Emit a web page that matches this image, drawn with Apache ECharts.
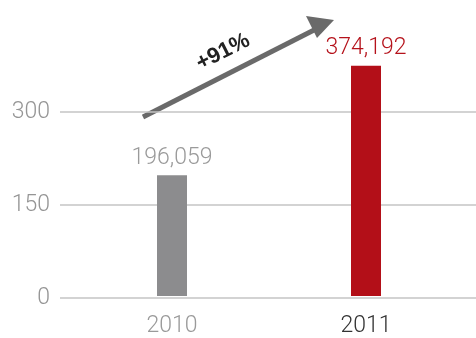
<!DOCTYPE html>
<html><head><meta charset="utf-8">
<script src="https://cdn.jsdelivr.net/npm/echarts@6/dist/echarts.min.js"></script>
<style>html,body{margin:0;padding:0;background:#fff}#c{width:476px;height:338px}</style>
</head><body><div id="c"></div>
<script>
const categories = ['2010', '2011'];
const values = [196059, 374192];
const barColors = ['#8c8c8e', '#b30f18'];
const labelColors = ['#9a9a9a', '#b5121b'];
const axisLabelColors = ['#9a9a9a', '#333333'];
const yTicks = [0, 150000, 300000];
const changeText = '+91%';

const font = 'Roboto';
const fw = 300;
const fs = 23;
const chart = echarts.init(document.getElementById('c'), null, {renderer: 'canvas'});
chart.setOption({
  animation: false,
  grid: [
    {left: 60, right: 0, top: 112, bottom: 40},
    {left: 75, right: 13, top: 19, bottom: 40}
  ],
  xAxis: [
    {gridIndex: 0, type: 'value', show: false, min: 0, max: 1},
    {gridIndex: 1, type: 'category', data: categories,
     axisLine: {show: false}, axisTick: {show: false},
     axisLabel: {margin: 19, fontSize: fs, fontFamily: font, fontWeight: fw,
       formatter: (v, i) => '{c' + i + '|' + v + '}',
       rich: {c0: {color: axisLabelColors[0], fontSize: fs, fontFamily: font, fontWeight: fw},
              c1: {color: axisLabelColors[1], fontSize: fs, fontFamily: font, fontWeight: fw}}}}
  ],
  yAxis: [
    {gridIndex: 0, type: 'value', min: yTicks[0], max: yTicks[yTicks.length - 1], interval: yTicks[1] - yTicks[0],
     axisLine: {show: false}, axisTick: {show: false},
     axisLabel: {margin: 10, fontSize: fs, color: '#959595', fontFamily: font, fontWeight: fw,
       formatter: v => String(v / 1000)},
     splitLine: {lineStyle: {color: '#c4c4c4', width: 1.5}}},
    {gridIndex: 1, type: 'value', min: 0, max: 450000, show: false, splitLine: {show: false}}
  ],
  series: [{
    type: 'bar', xAxisIndex: 1, yAxisIndex: 1, barWidth: 30, clip: false,
    data: values.map((v, i) => ({value: v, itemStyle: {color: barColors[i]},
      label: {color: labelColors[i]}})),
    label: {show: true, position: 'top', distance: 6, fontSize: fs, fontFamily: font, fontWeight: fw,
      formatter: p => p.value.toLocaleString('en-US')}
  }],
  graphic: [
    {type: 'line', shape: {x1: 143, y1: 117, x2: 318, y2: 28},
     style: {stroke: '#6a6a6a', lineWidth: 5}},
    {type: 'polygon', shape: {points: [[334, 20], [306, 16], [317, 38]]},
     style: {fill: '#6a6a6a'}},
    {type: 'text', x: 223, y: 52, rotation: 0.47,
     style: {text: changeText, fontSize: 22, fontWeight: 'bold', fontFamily: 'Liberation Sans',
       fill: '#222', align: 'center', verticalAlign: 'middle'}}
  ]
});
</script></body></html>
